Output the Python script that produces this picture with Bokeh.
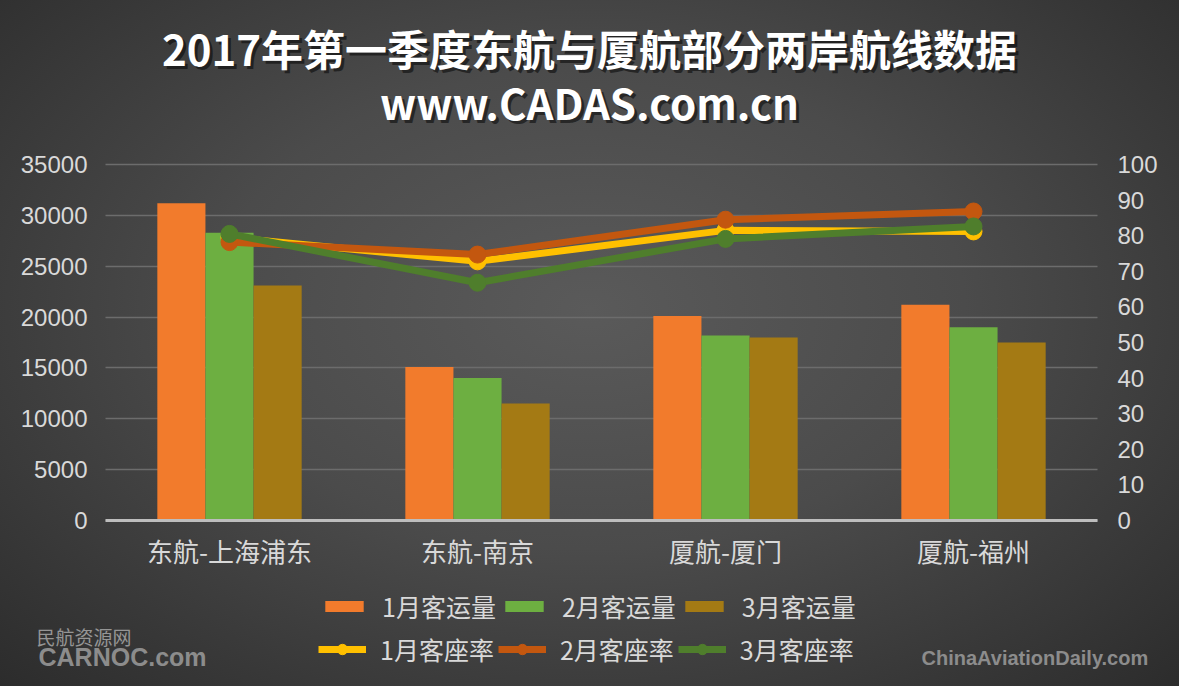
from bokeh.plotting import figure
from bokeh.models import Range1d, LinearAxis, FixedTicker, Legend, LegendItem, Label, ColumnDataSource
from bokeh.embed import file_html
from bokeh.resources import INLINE

routes = ["东航-上海浦东", "东航-南京", "厦航-厦门", "厦航-福州"]
pax_jan = [31200, 15100, 20100, 21200]
pax_feb = [28300, 14000, 18200, 19000]
pax_mar = [23100, 11500, 18000, 17500]
load_jan = [79.5, 72.8, 81.5, 81.2]
load_feb = [78.2, 74.7, 84.5, 86.8]
load_mar = [80.5, 66.8, 79.1, 82.6]
left_ticks = [0, 5000, 10000, 15000, 20000, 25000, 30000, 35000]
right_ticks = [0, 10, 20, 30, 40, 50, 60, 70, 80, 90, 100]
title_text = "2017年第一季度东航与厦航部分两岸航线数据"
subtitle_text = "www.CADAS.com.cn"
bar_names = ["1月客运量", "2月客运量", "3月客运量"]
line_names = ["1月客座率", "2月客座率", "3月客座率"]

W, H = 1179, 686
# plot area inside the canvas (pixels)
PL, PR, PT, PB = 105, 1097, 164, 520
n = len(routes)
ppx = (PR - PL) / n            # pixels per category
ppy = (PB - PT) / 35000        # pixels per passenger
ppr = (PB - PT) / 100          # pixels per percent

xc = [i + 0.5 for i in range(n)]
bw = 0.194
src = ColumnDataSource(dict(x=xc, xl=[v - bw for v in xc], xr=[v + bw for v in xc],
                            jan=pax_jan, feb=pax_feb, mar=pax_mar,
                            ljan=load_jan, lfeb=load_feb, lmar=load_mar))

CJK = "Noto Sans CJK SC"
LBL = "#d9d9d9"

p = figure(width=W, height=H, output_backend="svg", toolbar_location=None,
           x_range=Range1d(-PL / ppx, n + (W - PR) / ppx),
           y_range=Range1d(-(H - PB) / ppy, 35000 + PT / ppy),
           min_border=0)
p.styles = {"background": "radial-gradient(ellipse at 50% 45%, #5a5a5a 0%, #4b4b4b 45%, #2c2c2c 100%)"}
p.border_fill_color = None
p.background_fill_color = None
p.outline_line_color = None
p.extra_y_ranges = {"rate": Range1d(-(H - PB) / ppr, 100 + PT / ppr)}

p.xgrid.grid_line_color = None
p.ygrid.grid_line_color = "#6c6c6c"
p.ygrid.grid_line_width = 1.5
p.ygrid.ticker = FixedTicker(ticks=left_ticks)
p.ygrid.cross_bounds = (0, n)

# bottom (category) axis fixed at y = 0
xa = p.xaxis[0]
xa.fixed_location = 0
xa.bounds = (0, n)
xa.ticker = FixedTicker(ticks=xc)
xa.major_label_overrides = {v: r for v, r in zip(xc, routes)}
xa.major_tick_line_color = None
xa.minor_tick_line_color = None
xa.axis_line_color = "#bdbdbd"
xa.axis_line_width = 3
xa.major_label_text_color = LBL
xa.major_label_text_font = CJK
xa.major_label_text_font_size = "26px"
xa.major_label_standoff = 5

ya = p.yaxis[0]
ya.fixed_location = 0
ya.ticker = FixedTicker(ticks=left_ticks)
ya.axis_line_color = None
ya.major_tick_line_color = None
ya.minor_tick_line_color = None
ya.major_label_text_color = LBL
ya.major_label_text_font = "Liberation Sans"
ya.major_label_text_font_size = "24px"
ya.major_label_standoff = 12

ra = LinearAxis(y_range_name="rate", ticker=FixedTicker(ticks=right_ticks), fixed_location=n)
ra.axis_line_color = None
ra.major_tick_line_color = None
ra.minor_tick_line_color = None
ra.major_label_text_color = LBL
ra.major_label_text_font = "Liberation Sans"
ra.major_label_text_font_size = "24px"
ra.major_label_standoff = 14
p.add_layout(ra, "right")

b1 = p.vbar(x="xl", top="jan", width=bw, source=src, fill_color="#F27B2C", line_color=None)
b2 = p.vbar(x="x", top="feb", width=bw, source=src, fill_color="#6DAF41", line_color=None)
b3 = p.vbar(x="xr", top="mar", width=bw, source=src, fill_color="#A47A14", line_color=None)

lines = []
for col, color in [("ljan", "#FFC000"), ("lfeb", "#C3570F"), ("lmar", "#4F7E2C")]:
    l = p.line(x="x", y=col, source=src, y_range_name="rate", line_color=color, line_width=7)
    c = p.scatter(x="x", y=col, source=src, y_range_name="rate", size=17,
                  fill_color=color, line_color=color)
    lines.append([l, c])

def mk_legend(items, x, y, gh):
    return Legend(items=items, orientation="horizontal", location=(x, y),
                  background_fill_alpha=0, border_line_alpha=0,
                  label_text_color=LBL, label_text_font=CJK, label_text_font_size="25px",
                  glyph_width=48, glyph_height=gh, label_height=26, label_standoff=14,
                  spacing=4, padding=0, margin=0)

lg1 = mk_legend([LegendItem(label=nm, renderers=[r]) for nm, r in zip(bar_names, [b1, b2, b3])], 320, 62, 14)
lg2 = mk_legend([LegendItem(label=nm, renderers=rs) for nm, rs in zip(line_names, lines)], 318, 19, 26)
p.add_layout(lg1, "center")
p.add_layout(lg2, "center")

def txt(t, x, y, size, color, bold=True, font=CJK, align="center", alpha=1.0):
    p.add_layout(Label(x=x, y=y, x_units="screen", y_units="screen", text=t, text_align=align,
                       text_baseline="middle", text_font=font, text_font_size=size,
                       text_font_style="bold" if bold else "normal", text_color=color,
                       text_alpha=alpha))

# titles with a soft shadow (y measured from the canvas bottom)
txt(title_text, 592, H - 50, "42px", "#000000", alpha=0.5)
txt(title_text, 589, H - 47, "42px", "#ffffff")
txt(subtitle_text, 592, H - 104, "42px", "#000000", alpha=0.5)
txt(subtitle_text, 589, H - 101, "42px", "#ffffff")

# watermarks
txt("民航资源网", 36, H - 636, "19px", "#959595", bold=False, align="left")
txt("CARNOC.com", 38, H - 656, "25px", "#8c8c8c", font="Liberation Sans", align="left")
txt("ChinaAviationDaily.com", 921, H - 657, "20px", "#8c8c8c", font="Liberation Sans", align="left")

open("out.html", "w").write(file_html(p, INLINE))
